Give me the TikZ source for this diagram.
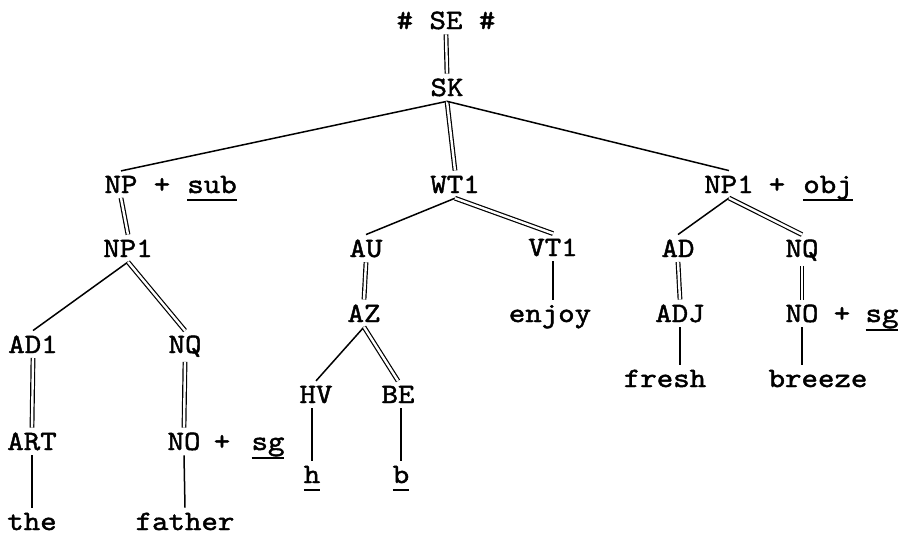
\documentclass[tikz,border=0pt]{standalone}
\usepackage{fontspec}
\newfontfamily\twf{lmmono10-regular}[Extension=.otf,FakeBold=1.6,FakeStretch=1.12]
\newcommand{\twfont}{\twf\fontsize{28}{30}\selectfont}
\begin{document}
\begin{tikzpicture}[x=1pt,y=-1pt,
  lab/.style={anchor=base,inner sep=0pt,outer sep=5pt,font=\twfont},
  word/.style={anchor=base,inner sep=0pt,outer sep=0pt,font=\twfont},
  single/.style={line width=1.5pt},
  dbl/.style={double,double distance=2.4pt,line width=1.2pt},
  uline/.style={line width=2pt}]
\useasboundingbox (0,0) rectangle (903,541);
% nodes
\node[lab] (SE) at (446,29) {\# SE \#};
\node[lab] (SK) at (447,96) {SK};
\node[lab] (NPs) at (121,193) {NP};
\node[word] (plA) at (162,193) {+};
\node[word] (sub) at (212,193) {sub};
\node[lab] (WT) at (455,193) {WT1};
\node[lab] (NPo) at (729,193) {NP1};
\node[word] (plB) at (777,193) {+};
\node[word] (obj) at (828,193) {obj};
\node[lab] (NPl) at (128,257) {NP1};
\node[lab] (AU) at (366,257) {AU};
\node[lab] (VT) at (553,256) {VT1};
\node[lab] (AD) at (678,257) {AD};
\node[lab] (NQr) at (802,257) {NQ};
\node[lab] (AZ) at (364,322) {AZ};
\node[lab] (enjoy) at (550,322) {enjoy};
\node[lab] (ADJ) at (680,322) {ADJ};
\node[lab] (NOr) at (802,322) {NO};
\node[word] (plC) at (842,322) {+};
\node[word] (sgr) at (882,322) {sg};
\node[lab] (AD1) at (33,353) {AD1};
\node[lab] (NQl) at (185,353) {NQ};
\node[lab] (fresh) at (665,387) {fresh};
\node[lab] (breeze) at (818,387) {breeze};
\node[lab] (HV) at (316,403) {HV};
\node[lab] (BE) at (398,403) {BE};
\node[lab] (ART) at (32,450) {ART};
\node[lab] (NOl) at (184,450) {NO};
\node[word] (plD) at (222,450) {+};
\node[word] (sgl) at (268,450) {sg};
\node[lab] (h) at (312,483) {h};
\node[lab] (b) at (401,483) {b};
\node[lab] (the) at (32,530) {the};
\node[lab] (father) at (185,530) {father};
% underlines
\draw[uline] ([yshift=-7pt]sub.base west) -- ([yshift=-7pt]sub.base east);
\draw[uline] ([yshift=-7pt]obj.base west) -- ([yshift=-7pt]obj.base east);
\draw[uline] ([yshift=-8pt]sgr.base west) -- ([yshift=-8pt]sgr.base east);
\draw[uline] ([yshift=-8pt]sgl.base west) -- ([yshift=-8pt]sgl.base east);
\draw[uline] ([xshift=5pt,yshift=-2pt]h.south west) -- ([xshift=-5pt,yshift=-2pt]h.south east);
\draw[uline] ([xshift=5pt,yshift=-2pt]b.south west) -- ([xshift=-5pt,yshift=-2pt]b.south east);
% connectors
\draw[dbl] (SE.south) -- (SK.north);
\draw[single] (SK.south) -- (NPs.north);
\draw[dbl] (SK.south) -- (WT.north);
\draw[single] (SK.south) -- (NPo.north);
\draw[dbl] (NPs.south) -- (NPl.north);
\draw[single] (NPl.south) -- (AD1.north);
\draw[dbl] (NPl.south) -- (NQl.north);
\draw[dbl] (AD1.south) -- (ART.north);
\draw[dbl] (NQl.south) -- (NOl.north);
\draw[single] (ART.south) -- (the.north);
\draw[single] (NOl.south) -- (father.north);
\draw[single] (WT.south) -- (AU.north);
\draw[dbl] (WT.south) -- (VT.north);
\draw[dbl] (AU.south) -- (AZ.north);
\draw[single] (VT.south) -- (VT.south |- enjoy.north);
\draw[single] (AZ.south) -- (HV.north);
\draw[dbl] (AZ.south) -- (BE.north);
\draw[single] (h.north |- HV.south) -- (h.north);
\draw[single] (b.north |- BE.south) -- (b.north);
\draw[single] (NPo.south) -- (AD.north);
\draw[dbl] (NPo.south) -- (NQr.north);
\draw[dbl] (AD.south) -- (ADJ.north);
\draw[dbl] (NQr.south) -- (NOr.north);
\draw[single] (ADJ.south) -- (ADJ.south |- fresh.north);
\draw[single] (NOr.south) -- (NOr.south |- breeze.north);
\end{tikzpicture}
\end{document}
